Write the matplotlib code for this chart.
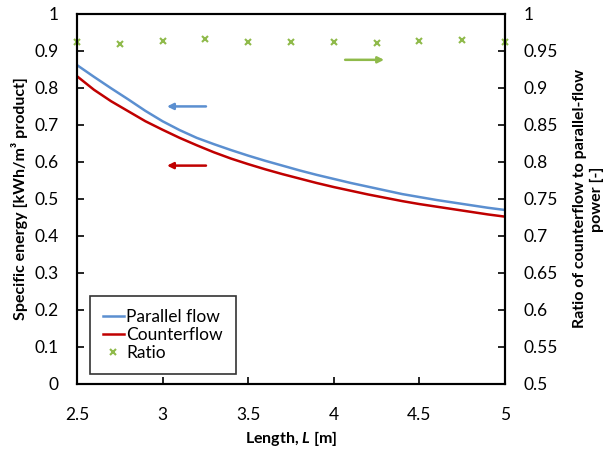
import numpy as np
import matplotlib
matplotlib.use("Agg")
import matplotlib.pyplot as plt

plt.rcParams['font.family'] = ['Lato', 'DejaVu Sans']
plt.rcParams['mathtext.fontset'] = 'custom'
plt.rcParams['mathtext.rm'] = 'Lato'
plt.rcParams['mathtext.it'] = 'Lato:italic:bold'
plt.rcParams['mathtext.bf'] = 'Lato:bold'

# Data
length = [2.5, 2.6, 2.7, 2.8, 2.9, 3.0, 3.1, 3.2, 3.3, 3.4, 3.5, 3.6, 3.7,
          3.8, 3.9, 4.0, 4.1, 4.2, 4.3, 4.4, 4.5, 4.6, 4.7, 4.8, 4.9, 5.0]
parallel = [0.862, 0.830, 0.799, 0.769, 0.738, 0.710, 0.686, 0.665, 0.648, 0.632,
            0.617, 0.603, 0.590, 0.577, 0.565, 0.554, 0.543, 0.533, 0.523, 0.513,
            0.505, 0.497, 0.490, 0.483, 0.476, 0.470]
counter = [0.832, 0.795, 0.764, 0.737, 0.710, 0.687, 0.665, 0.645, 0.626, 0.609,
           0.594, 0.580, 0.567, 0.555, 0.543, 0.532, 0.522, 0.512, 0.503, 0.494,
           0.486, 0.479, 0.472, 0.465, 0.458, 0.452]

ratio_x = [2.5, 2.75, 3.0, 3.25, 3.5, 3.75, 4.0, 4.25, 4.5, 4.75, 5.0]
ratio = [0.962, 0.959, 0.9635, 0.966, 0.962, 0.962, 0.962, 0.9605, 0.9635, 0.9645, 0.9625]

BLUE = '#5b8fd0'
RED = '#c00000'
GREEN = '#8fba4a'

fig = plt.figure(figsize=(6.1, 4.5), dpi=100)
ax = fig.add_axes([0.126, 0.147, 0.702, 0.822])
ax2 = ax.twinx()

l1, = ax.plot(length, parallel, color=BLUE, lw=1.8, label='Parallel flow')
l2, = ax.plot(length, counter, color=RED, lw=1.8, label='Counterflow')
l3, = ax2.plot(ratio_x, ratio, ls='none', marker='x', ms=5, mew=1.5,
               color=GREEN, label='Ratio', clip_on=False)

ax.set_xlim(2.5, 5)
ax.set_ylim(0, 1)
ax2.set_ylim(0.5, 1)
ax.set_xticks(np.arange(2.5, 5.01, 0.5))
ax.set_xticklabels(['2.5', '3', '3.5', '4', '4.5', '5'])
ax.set_yticks(np.arange(0, 1.01, 0.1))
ax.set_yticklabels(['0', '0.1', '0.2', '0.3', '0.4', '0.5', '0.6', '0.7', '0.8', '0.9', '1'])
ax2.set_yticks(np.arange(0.5, 1.001, 0.05))
ax2.set_yticklabels(['0.5', '0.55', '0.6', '0.65', '0.7', '0.75', '0.8', '0.85', '0.9', '0.95', '1'])

for a in (ax, ax2):
    a.tick_params(direction='in', length=5, width=1.2, labelsize=12.5, pad=13)
    for s in a.spines.values():
        s.set_linewidth(1.5)
ax.tick_params(axis='x', pad=17)

ax.set_xlabel('Length, $\\it{L}$ [m]', fontsize=11.5, fontweight='bold', labelpad=4)
ax.set_ylabel('Specific energy [kWh/m³ product]', fontsize=11.5, fontweight='bold', labelpad=5)
ax2.set_ylabel('Ratio of counterflow to parallel-flow\npower [-]', fontsize=11.5,
               fontweight='bold', labelpad=11, linespacing=1.3)

# arrows pointing to the axes
ax.annotate('', xy=(3.01, 0.75), xytext=(3.27, 0.75),
            arrowprops=dict(arrowstyle='-|>', color=BLUE, lw=1.8, mutation_scale=9))
ax.annotate('', xy=(3.01, 0.59), xytext=(3.27, 0.59),
            arrowprops=dict(arrowstyle='-|>', color=RED, lw=1.8, mutation_scale=9))
ax2.annotate('', xy=(4.31, 0.938), xytext=(4.05, 0.938),
             arrowprops=dict(arrowstyle='-|>', color=GREEN, lw=1.8, mutation_scale=9))

leg = ax.legend(handles=[l1, l2, l3], loc='lower left', bbox_to_anchor=(0.03, 0.027),
                borderaxespad=0, fontsize=12.5, frameon=True, fancybox=False,
                handlelength=1.2, handletextpad=0.15, borderpad=0.75,
                labelspacing=0.1)
leg.get_frame().set_edgecolor('black')
leg.get_frame().set_linewidth(1.2)

fig.savefig('out.png', dpi=100)
